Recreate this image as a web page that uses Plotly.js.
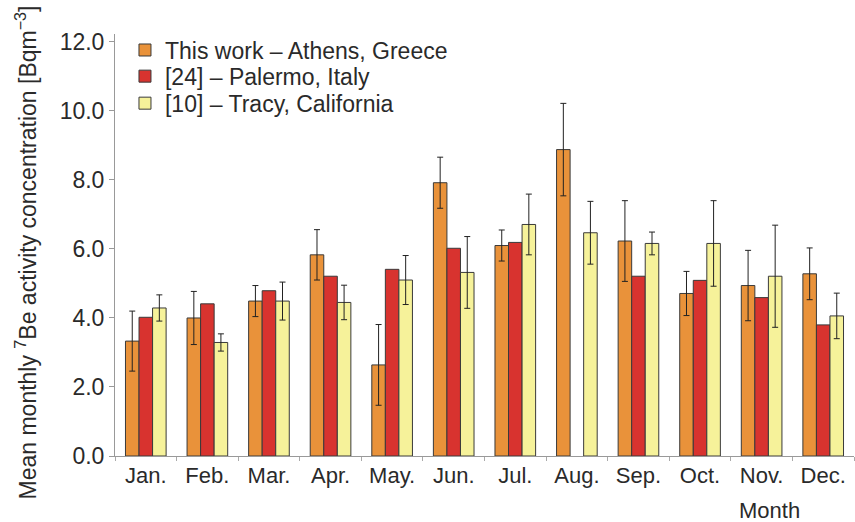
<!DOCTYPE html>
<html>
<head>
<meta charset="utf-8">
<script src="https://cdn.plot.ly/plotly-3.0.1.min.js"></script>
<style>html,body{margin:0;padding:0;background:#fff;}#chart{width:855px;height:522px;}</style>
</head>
<body>
<div id="chart"></div>
<script>
const months = ["Jan.","Feb.","Mar.","Apr.","May.","Jun.","Jul.","Aug.","Sep.","Oct.","Nov.","Dec."];
const seriesNames = ["This work \u2013 Athens, Greece","[24] \u2013 Palermo, Italy","[10] \u2013 Tracy, California"];
const athens    = [3.33, 4.00, 4.49, 5.83, 2.64, 7.92, 6.10, 8.88, 6.23, 4.71, 4.94, 5.28];
const athensErr = [0.87, 0.77, 0.45, 0.73, 1.17, 0.74, 0.45, 1.34, 1.17, 0.64, 1.02, 0.75];
const palermo   = [4.02, 4.41, 4.79, 5.21, 5.41, 6.02, 6.19, null, 5.21, 5.09, 4.59, 3.80];
const tracy     = [4.29, 3.29, 4.49, 4.45, 5.10, 5.32, 6.71, 6.47, 6.16, 6.16, 5.21, 4.06];
const tracyErr  = [0.38, 0.25, 0.55, 0.50, 0.71, 1.04, 0.88, 0.91, 0.33, 1.24, 1.48, 0.66];
const yTicks = [0, 2, 4, 6, 8, 10, 12];

const colors = ["#E9923A", "#D8332F", "#F6F29A"];
const FONT = "Liberation Sans, Arial, sans-serif";
const TXT = "#2a2a2a";
const errStyle = {type: "data", visible: true, color: "#222", thickness: 1, width: 3};

const traces = [
  {type: "bar", x: months, y: athens, name: seriesNames[0], legend: "legend",
   marker: {color: colors[0], line: {color: "#3a3a3a", width: 1}},
   error_y: Object.assign({array: athensErr}, errStyle)},
  {type: "bar", x: months, y: palermo, name: seriesNames[1], legend: "legend2",
   marker: {color: colors[1], line: {color: "#3a3a3a", width: 1}}},
  {type: "bar", x: months, y: tracy, name: seriesNames[2], legend: "legend3",
   marker: {color: colors[2], line: {color: "#3a3a3a", width: 1}},
   error_y: Object.assign({array: tracyErr}, errStyle)}
];

function leg(y) {
  return {x: 0.0135, y: y, xanchor: "left", yanchor: "middle", bgcolor: "rgba(0,0,0,0)",
          font: {size: 23, color: TXT}, itemwidth: 30};
}

const layout = {
  width: 855, height: 522,
  margin: {l: 115, r: 1, t: 34, b: 66},
  paper_bgcolor: "#fff", plot_bgcolor: "#fff",
  font: {family: FONT, color: TXT, size: 22},
  barmode: "group", bargap: 0.34, bargroupgap: 0,
  showlegend: true,
  legend: leg(0.962), legend2: leg(0.900), legend3: leg(0.836),
  xaxis: {
    type: "category", showgrid: false, zeroline: false,
    showline: true, linecolor: "#999", linewidth: 1,
    ticks: "outside", ticklen: 4, tickson: "boundaries", tickcolor: "#aaa",
    tickfont: {size: 22, color: TXT}
  },
  yaxis: {
    range: [0, 12.23], tickvals: yTicks, tickformat: ".1f",
    showgrid: false, zeroline: false,
    showline: true, linecolor: "#999", linewidth: 1,
    ticks: "outside", ticklen: 5, tickcolor: "#999",
    tickfont: {size: 23, color: TXT}
  },
  annotations: [
    {text: "Mean monthly <sup>7</sup>Be activity concentration [Bqm<sup>\u22123</sup>]",
     xref: "paper", yref: "paper", x: -0.12, y: 0.483, xanchor: "center", yanchor: "middle",
     textangle: -90, showarrow: false, font: {size: 23, color: TXT}},
    {text: "Month", xref: "paper", yref: "paper", x: 0.886, y: -0.128, xanchor: "center", yanchor: "middle",
     showarrow: false, font: {size: 22, color: TXT}}
  ]
};

Plotly.newPlot("chart", traces, layout, {displayModeBar: false, staticPlot: true});
</script>
</body>
</html>
